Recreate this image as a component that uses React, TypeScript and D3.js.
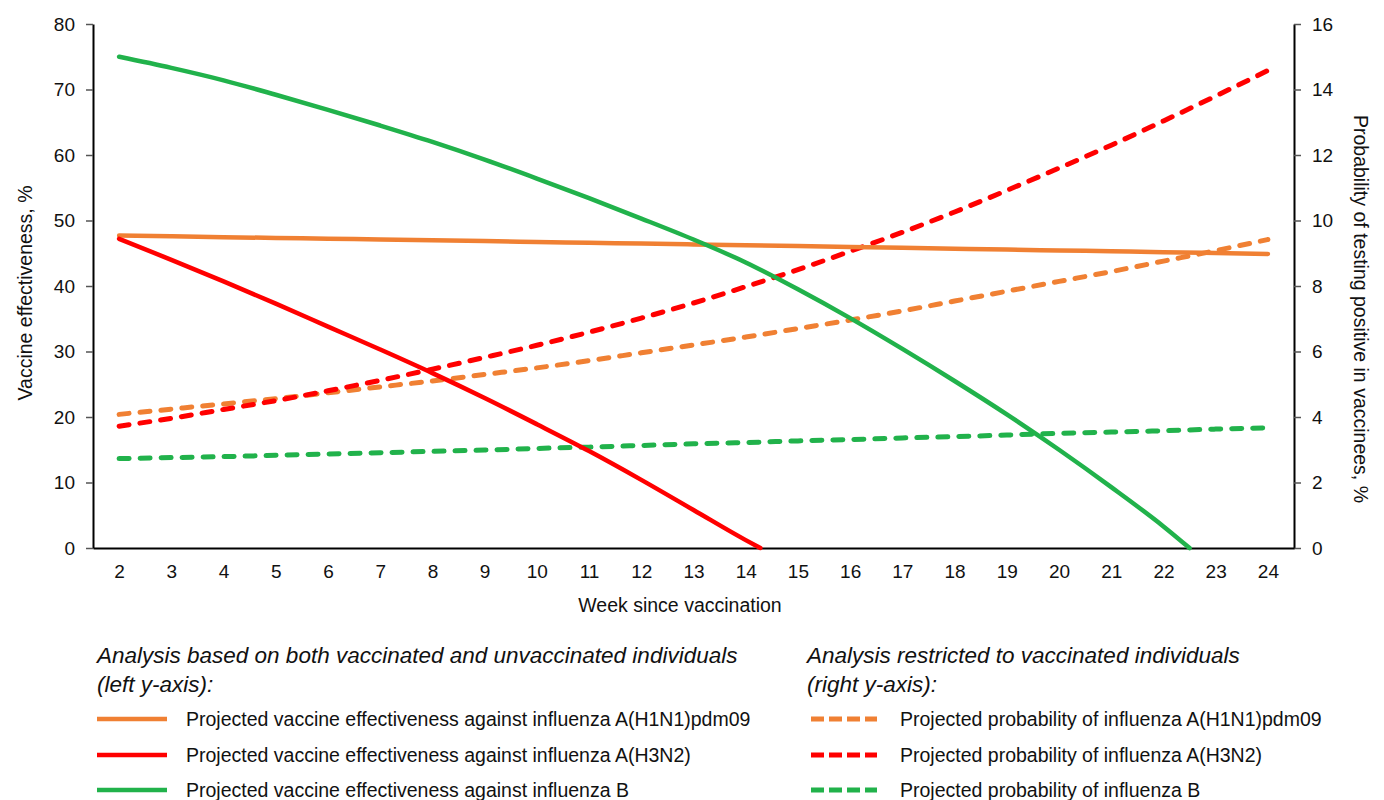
import { useEffect, useRef } from "react"
import * as d3 from "d3"

// weeks since vaccination (x categories)
const weeks = [2, 3, 4, 5, 6, 7, 8, 9, 10, 11, 12, 13, 14, 15, 16, 17, 18, 19, 20, 21, 22, 23, 24]

// left axis: projected vaccine effectiveness, %
const veH1N1 = [47.70, 47.58, 47.46, 47.34, 47.22, 47.10, 46.98, 46.86, 46.73, 46.60, 46.48, 46.35, 46.22, 46.09, 45.96, 45.83, 45.70, 45.56, 45.43, 45.30, 45.17, 45.03, 44.90]
const veH3N2Weeks = [2, 3, 4, 5, 6, 7, 8, 9, 10, 11, 12, 13, 14, 14.28]
const veH3N2 = [47.2, 44.0, 40.7, 37.3, 33.8, 30.3, 26.7, 22.9, 18.9, 14.8, 10.4, 5.8, 1.2, 0]
const veBWeeks = [2, 3, 4, 5, 6, 7, 8, 9, 10, 11, 12, 13, 14, 15, 16, 17, 18, 19, 20, 21, 22, 22.5]
const veB = [75.0, 73.3, 71.4, 69.2, 66.9, 64.5, 62.0, 59.3, 56.4, 53.4, 50.3, 47.1, 43.6, 39.5, 35.1, 30.4, 25.5, 20.4, 15.0, 9.3, 3.3, 0]

// right axis: projected probability of testing positive in vaccinees, %
const probH1N1 = [4.08, 4.24, 4.40, 4.56, 4.74, 4.92, 5.10, 5.30, 5.50, 5.72, 5.96, 6.20, 6.44, 6.70, 6.96, 7.24, 7.54, 7.84, 8.14, 8.44, 8.76, 9.08, 9.42]
const probH3N2 = [3.72, 3.96, 4.23, 4.50, 4.80, 5.12, 5.46, 5.82, 6.19, 6.59, 7.02, 7.48, 7.98, 8.50, 9.06, 9.64, 10.26, 10.92, 11.60, 12.30, 13.04, 13.80, 14.58]
const probB = [2.73, 2.76, 2.79, 2.83, 2.87, 2.91, 2.95, 2.99, 3.04, 3.08, 3.13, 3.18, 3.22, 3.27, 3.31, 3.36, 3.40, 3.45, 3.50, 3.54, 3.58, 3.63, 3.67]

const leftTicks = [0, 10, 20, 30, 40, 50, 60, 70, 80]
const rightTicks = [0, 2, 4, 6, 8, 10, 12, 14, 16]

const leftLegend = [
    "Projected vaccine effectiveness against influenza A(H1N1)pdm09",
    "Projected vaccine effectiveness against influenza A(H3N2)",
    "Projected vaccine effectiveness against influenza B",
]
const rightLegend = [
    "Projected probability of influenza A(H1N1)pdm09",
    "Projected probability of influenza A(H3N2)",
    "Projected probability of influenza B",
]
const colors = ["#F08033", "#FF0000", "#21B24B"]

const FONT = "'Liberation Sans', Arial, sans-serif"
const DASH = "10,11"

const App = () => {
    const ref = useRef<SVGSVGElement>(null)

    useEffect(() => {
        const svg = d3.select(ref.current)
        svg.selectAll("*").remove()

        const left = 93, right = 1294, top = 24, bottom = 548

        const x = d3.scaleLinear().domain([1.5, 24.5]).range([left, right])
        const yL = d3.scaleLinear().domain([0, 80]).range([bottom, top])
        const yR = d3.scaleLinear().domain([0, 16]).range([bottom, top])

        const g = svg.append("g").attr("font-family", FONT)

        const styleAxis = (sel: any) => {
            sel.select(".domain").attr("stroke", "#000").attr("stroke-width", 2)
            sel.selectAll(".tick line").attr("stroke", "#555").attr("stroke-width", 1.5)
            sel.selectAll("text").attr("font-size", 19).attr("fill", "#111").attr("font-family", FONT)
        }

        g.append("g")
            .attr("transform", `translate(${left},0)`)
            .call(d3.axisLeft(yL).tickValues(leftTicks).tickSize(7).tickSizeOuter(0).tickPadding(11))
            .call(styleAxis)

        g.append("g")
            .attr("transform", `translate(${right},0)`)
            .call(d3.axisRight(yR).tickValues(rightTicks).tickSize(7).tickSizeOuter(0).tickPadding(11))
            .call(styleAxis)

        g.append("g")
            .attr("transform", `translate(0,${bottom})`)
            .call(d3.axisBottom(x).tickValues(weeks).tickFormat(d3.format("d")).tickSize(0).tickSizeOuter(0).tickPadding(16.5))
            .call(styleAxis)

        // axis titles
        g.append("text")
            .attr("transform", `translate(32,293) rotate(-90)`)
            .attr("text-anchor", "middle")
            .attr("font-size", 19.5)
            .attr("fill", "#111")
            .text("Vaccine effectiveness, %")

        g.append("text")
            .attr("transform", `translate(1354,309) rotate(90)`)
            .attr("text-anchor", "middle")
            .attr("font-size", 19.5)
            .attr("fill", "#111")
            .text("Probability of testing positive in vaccinees, %")

        g.append("text")
            .attr("x", 680)
            .attr("y", 612)
            .attr("text-anchor", "middle")
            .attr("font-size", 19.5)
            .attr("fill", "#111")
            .text("Week since vaccination")

        const lineL = d3.line<[number, number]>()
            .x(d => x(d[0]))
            .y(d => yL(d[1]))
            .curve(d3.curveMonotoneX)
        const lineR = d3.line<[number, number]>()
            .x(d => x(d[0]))
            .y(d => yR(d[1]))
            .curve(d3.curveMonotoneX)

        const solids: [number[], number[]][] = [[weeks, veH1N1], [veH3N2Weeks, veH3N2], [veBWeeks, veB]]
        const dashed = [probH1N1, probH3N2, probB]

        const plot = g.append("g")

        dashed.forEach((vals, i) => {
            plot.append("path")
                .attr("d", lineR(weeks.map((w, j) => [w, vals[j]] as [number, number])))
                .attr("fill", "none")
                .attr("stroke", colors[i])
                .attr("stroke-width", 5)
                .attr("stroke-dasharray", DASH)
                .attr("stroke-linecap", "round")
        })

        solids.forEach(([ws, vals], i) => {
            plot.append("path")
                .attr("d", lineL(ws.map((w, j) => [w, vals[j]] as [number, number])))
                .attr("fill", "none")
                .attr("stroke", colors[i])
                .attr("stroke-width", 4.5)
                .attr("stroke-linecap", "round")
        })

        // legend
        const legend = g.append("g").attr("fill", "#111")
        const headers = [
            { x: 97, lines: ["Analysis based on both vaccinated and unvaccinated individuals", "(left y-axis):"] },
            { x: 807, lines: ["Analysis restricted to vaccinated individuals", "(right y-axis):"] },
        ]
        headers.forEach(h => {
            h.lines.forEach((t, k) => {
                legend.append("text")
                    .attr("x", h.x)
                    .attr("y", 663 + k * 29)
                    .attr("font-size", 22.5)
                    .attr("font-style", "italic")
                    .text(t)
            })
        })

        const rowY = [719, 755, 790]
        leftLegend.forEach((t, i) => {
            legend.append("line")
                .attr("x1", 97).attr("x2", 167)
                .attr("y1", rowY[i]).attr("y2", rowY[i])
                .attr("stroke", colors[i])
                .attr("stroke-width", 4.5)
            legend.append("text")
                .attr("x", 186)
                .attr("y", rowY[i] + 7)
                .attr("font-size", 19.5)
                .text(t)
        })
        rightLegend.forEach((t, i) => {
            legend.append("line")
                .attr("x1", 811).attr("x2", 877)
                .attr("y1", rowY[i]).attr("y2", rowY[i])
                .attr("stroke", colors[i])
                .attr("stroke-width", 5)
                .attr("stroke-dasharray", "13,5")
            legend.append("text")
                .attr("x", 900)
                .attr("y", rowY[i] + 7)
                .attr("font-size", 19.5)
                .text(t)
        })
    }, [])

    return (
        <svg
            ref={ref}
            width={1384}
            height={800}
            style={{ position: "absolute", left: 0, top: 0, background: "#fff" }}
        />
    )
}

export default App
